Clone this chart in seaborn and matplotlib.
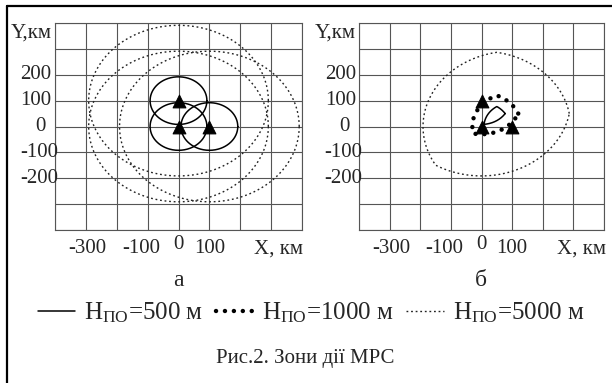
import numpy as np
import matplotlib.pyplot as plt
import seaborn as sns
from matplotlib.lines import Line2D
from matplotlib.transforms import blended_transform_factory

sns.set_theme(style="white")
plt.rcParams['font.family'] = ['Liberation Serif', 'DejaVu Serif']
plt.rcParams['mathtext.fontset'] = 'custom'
plt.rcParams['mathtext.rm'] = 'Liberation Serif'
plt.rcParams['mathtext.it'] = 'Liberation Serif:italic'

# radar station positions, km
station_x = [0, 0, 100]
station_y = [100, 0, 0]

# flight altitude (m) and detection radius (km) for each altitude
altitudes = [500, 1000, 5000]
radius_km = [92, 130, 291]

grid_ticks = list(range(-400, 401, 100))
x_tick_labels = ['-300', '-100', '100']
x_tick_pos = [-295, -120, 100]
y_tick_labels = ['200', '100', '-100', '-200']
y_tick_pos = [200, 100, -100, -200]
panel_names = ['а', 'б']

GRID = '#555555'
styles = {
    500: dict(color='black', lw=1.1, ls='-'),
    1000: dict(color='black', lw=3.2, ls=(0, (0.01, 2.0)), dash_capstyle='round'),
    5000: dict(color='#222222', lw=1.0, ls=(0, (1.3, 2.0))),
}


def circle(cx, cy, r, n=361):
    t = np.linspace(0, 2 * np.pi, n)
    return cx + r * np.cos(t), cy + r * np.sin(t)


def common_zone(r, n=721):
    # boundary of the area seen by all three stations
    p0 = np.array([50.0, 50.0])
    t = np.linspace(0, 2 * np.pi, n)
    d = np.stack([np.cos(t), np.sin(t)], axis=1)
    dist = np.full(n, np.inf)
    for cx, cy in zip(station_x, station_y):
        w = p0 - np.array([cx, cy])
        b = d @ w
        c = w @ w - r * r
        dist = np.minimum(dist, -b + np.sqrt(b * b - c))
    return p0[0] + dist * d[:, 0], p0[1] + dist * d[:, 1]


def draw_curve(ax, x, y, h):
    st = styles[h]
    sns.lineplot(x=x, y=y, sort=False, estimator=None, ax=ax, color=st['color'],
                 linewidth=st['lw'], linestyle=st['ls'],
                 dash_capstyle=st.get('dash_capstyle', 'butt'))


def setup_axes(ax):
    ax.set_xlim(-400, 400)
    ax.set_ylim(-400, 400)
    ax.set_xticks(grid_ticks)
    ax.set_yticks(grid_ticks)
    ax.set_xticklabels([])
    ax.set_yticklabels([])
    ax.tick_params(length=0)
    ax.grid(True, color=GRID, lw=0.8)
    for s in ax.spines.values():
        s.set_color(GRID)
        s.set_linewidth(0.8)
    ax.set_xlabel('')
    ax.set_ylabel('')
    fs = 15
    tx = blended_transform_factory(ax.transData, ax.transAxes)
    for lab, p in zip(x_tick_labels, x_tick_pos):
        ax.text(p, -0.09, lab, transform=tx, ha='center', va='center', fontsize=fs)
    ax.text(0, -0.072, '0', transform=tx, ha='center', va='center', fontsize=fs)
    ax.text(325, -0.09, 'X, км', transform=tx, ha='center', va='center', fontsize=fs)
    ty = blended_transform_factory(ax.transAxes, ax.transData)
    for lab, p in zip(y_tick_labels, y_tick_pos):
        ax.text(-0.14, p, lab, transform=ty, ha='left', va='center', fontsize=fs)
    ax.text(-0.06, 0, '0', transform=ty, ha='center', va='center', fontsize=fs)
    ax.text(-0.18, 0.952, 'Y,км', transform=ax.transAxes, ha='left', va='center', fontsize=fs)


fig = plt.figure(figsize=(6.12, 3.83), dpi=100)
ax1 = fig.add_axes([55 / 612, 1 - 230 / 383, 247 / 612, 207 / 383])
ax2 = fig.add_axes([359 / 612, 1 - 230 / 383, 245 / 612, 207 / 383])

# a: single-station zones
for h, r in zip(altitudes, radius_km):
    if h == 1000:
        continue
    for cx, cy in zip(station_x, station_y):
        x, y = circle(cx, cy, r)
        draw_curve(ax1, x, y, h)

# b: common zone of all three stations
for h, r in zip(altitudes, radius_km):
    x, y = common_zone(r)
    draw_curve(ax2, x, y, h)

for ax in (ax1, ax2):
    sns.scatterplot(x=station_x, y=station_y, marker='^', s=85, color='black',
                    edgecolor='black', ax=ax, zorder=5)
    setup_axes(ax)

fig.text(178 / 612, 1 - 280 / 383, panel_names[0], ha='center', va='center', fontsize=17)
fig.text(481 / 612, 1 - 280 / 383, panel_names[1], ha='center', va='center', fontsize=17)

handles = [Line2D([0], [0], color=styles[h]['color'], lw=styles[h]['lw'], ls=styles[h]['ls'],
                  dash_capstyle=styles[h].get('dash_capstyle', 'butt')) for h in altitudes]
labels = [r'H$_{\mathrm{ПО}}$=' + f'{h} м' for h in altitudes]
fig.legend(handles, labels, loc='center', bbox_to_anchor=(311 / 612, 1 - 313 / 383), ncol=3,
           frameon=False, fontsize=18, handlelength=1.5, handletextpad=0.35,
           columnspacing=0.5, borderpad=0, borderaxespad=0)

fig.text(305 / 612, 1 - 358 / 383, 'Рис.2. Зони дії МРС', ha='center', va='center', fontsize=15)

# frame around the figure
fig.add_artist(Line2D([7 / 612, 7 / 612], [0, 1 - 6 / 383], transform=fig.transFigure,
                      color='black', lw=1.6))
fig.add_artist(Line2D([7 / 612, 1], [1 - 6 / 383, 1 - 6 / 383], transform=fig.transFigure,
                      color='black', lw=1.6))

fig.savefig('out.png', dpi=100)
